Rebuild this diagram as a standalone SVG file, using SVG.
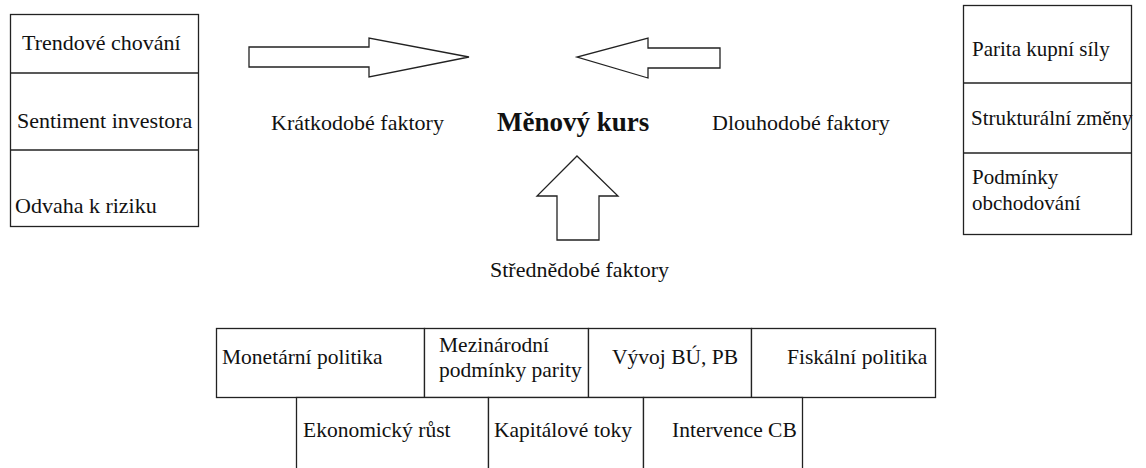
<svg xmlns="http://www.w3.org/2000/svg" width="1146" height="468" viewBox="0 0 1146 468">
<style>
  .box{fill:#fff;stroke:#222;stroke-width:1.3}
  .ln{stroke:#222;stroke-width:1.3;fill:none}
  .arr{fill:#fff;stroke:#222;stroke-width:1.3;stroke-linejoin:miter}
  text{font-family:"Liberation Serif","Times New Roman",serif;font-size:21.5px;fill:#111}
  .lg{font-size:22px}
  .sm{font-size:21px}
  .title{font-weight:bold;font-size:27px}
</style>
<rect width="1146" height="468" fill="#fff"/>
<g id="short-term-box">
  <rect class="box" x="10.5" y="14.5" width="188" height="212"/>
  <line class="ln" x1="10.5" y1="73" x2="198.5" y2="73"/>
  <line class="ln" x1="10.5" y1="150" x2="198.5" y2="150"/>
  <text class="lg" x="22" y="50">Trendové chování</text>
  <text class="lg" x="17" y="128">Sentiment investora</text>
  <text class="lg" x="15" y="213">Odvaha k riziku</text>
</g>
<g id="long-term-box">
  <rect class="box" x="963.5" y="5.5" width="168" height="229"/>
  <line class="ln" x1="963.5" y1="83" x2="1131.5" y2="83"/>
  <line class="ln" x1="963.5" y1="153" x2="1131.5" y2="153"/>
  <text class="sm" x="972" y="56">Parita kupní síly</text>
  <text class="sm" x="971" y="125">Strukturální změny</text>
  <text class="sm" x="972" y="184">Podmínky</text>
  <text class="sm" x="972" y="210">obchodování</text>
</g>
<g id="center">
  <text class="title" x="497" y="131">Měnový kurs</text>
</g>
<g id="label-short">
  <text class="lg" x="271" y="130">Krátkodobé faktory</text>
</g>
<g id="label-long">
  <text class="lg" x="712" y="130">Dlouhodobé faktory</text>
</g>
<g id="label-mid">
  <text class="lg" x="490" y="277">Střednědobé faktory</text>
</g>
<g id="connectors">
  <polygon class="arr" points="249,47 369,47 369,38 469,57 369,77 369,67 249,67"/>
  <polygon class="arr" points="720,48 648,48 648,38 577,57 648,78 648,68 720,68"/>
  <polygon class="arr" points="577,156 618,196 599,196 599,240 557,240 557,196 537,196"/>
</g>
<g id="medium-term-boxes">
  <g id="monetarni">
    <rect class="box" x="216.5" y="328.5" width="208" height="69"/>
    <text x="222" y="364">Monetární politika</text>
  </g>
  <g id="mezinarodni">
    <rect class="box" x="424.5" y="328.5" width="164" height="69"/>
    <text x="439" y="352">Mezinárodní</text>
    <text x="439" y="377">podmínky parity</text>
  </g>
  <g id="vyvoj">
    <rect class="box" x="588.5" y="328.5" width="163" height="69"/>
    <text x="612" y="364">Vývoj BÚ, PB</text>
  </g>
  <g id="fiskalni">
    <rect class="box" x="751.5" y="328.5" width="184" height="69"/>
    <text x="787" y="364">Fiskální politika</text>
  </g>
  <g id="ekonomicky">
    <rect class="box" x="296.5" y="397.5" width="192" height="90"/>
    <text x="303" y="437">Ekonomický růst</text>
  </g>
  <g id="kapitalove">
    <rect class="box" x="488.5" y="397.5" width="155" height="90"/>
    <text x="494" y="437">Kapitálové toky</text>
  </g>
  <g id="intervence">
    <rect class="box" x="643.5" y="397.5" width="159" height="90"/>
    <text x="672" y="437">Intervence CB</text>
  </g>
</g>
</svg>
